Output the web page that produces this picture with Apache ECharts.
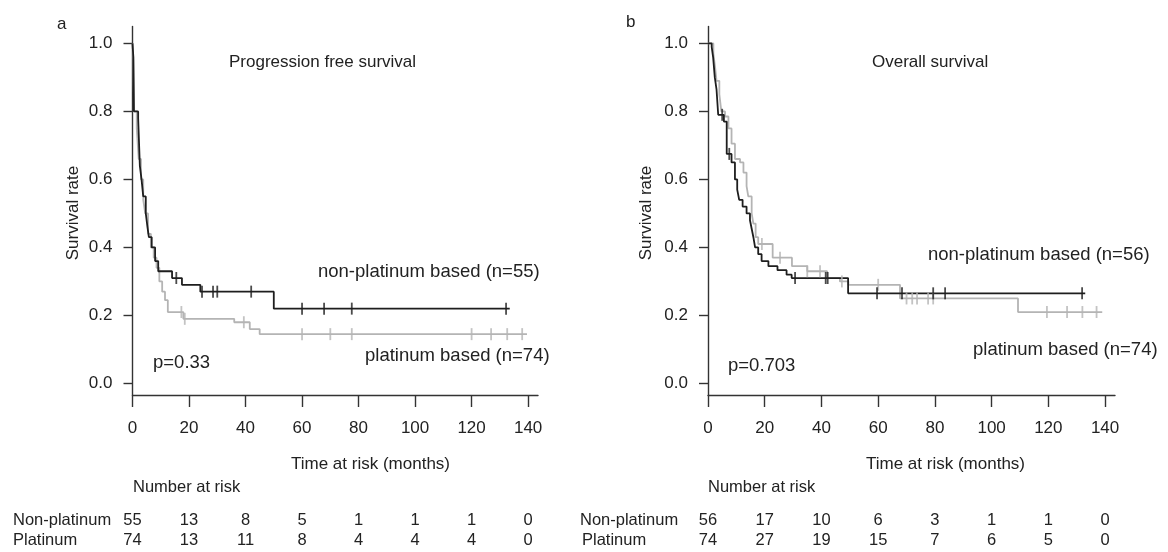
<!DOCTYPE html>
<html>
<head>
<meta charset="utf-8">
<script src="https://cdn.jsdelivr.net/npm/echarts@6/dist/echarts.min.js"></script>
<style>
html,body{margin:0;padding:0;background:#fff;}
#chart{width:1168px;height:552px;}
</style>
</head>
<body>
<div id="chart"></div>
<script>
// ---------- DATA ----------
const xTicks = [0, 20, 40, 60, 80, 100, 120, 140];
const yTicks = [0, 0.2, 0.4, 0.6, 0.8, 1.0];

// Panel a: progression free survival
const pfsNonTimes = [0, 0.3, 0.5, 2.0, 2.6, 3.2, 3.8, 4.7, 5.3, 5.8, 6.8, 8.0, 9.1, 14, 17.5, 24, 50, 133.5];
const pfsNonSurv  = [1.0, 0.96, 0.80, 0.78, 0.64, 0.60, 0.55, 0.50, 0.46, 0.43, 0.40, 0.36, 0.33, 0.31, 0.29, 0.27, 0.22, 0.22];
const pfsNonCensor = [15.5, 24.6, 28.5, 30, 42, 60, 67.8, 77.6, 132.2];

const pfsPlatTimes = [0, 0.3, 0.6, 1.5, 2.2, 3.0, 3.8, 4.5, 5.5, 6.5, 7.5, 8.5, 9.5, 10.5, 11.5, 12.5, 18, 36, 41.5, 45, 139.6];
const pfsPlatSurv  = [1.0, 0.95, 0.80, 0.75, 0.66, 0.60, 0.54, 0.50, 0.44, 0.40, 0.37, 0.34, 0.30, 0.27, 0.245, 0.21, 0.19, 0.18, 0.16, 0.145, 0.145];
const pfsPlatCensor = [17.3, 18.5, 39.4, 60, 70, 77.6, 120, 126.9, 132.6, 137.9];

// Panel b: overall survival
const osNonTimes = [0, 1.3, 1.8, 2.4, 3.0, 3.6, 5.6, 6.6, 8.3, 9.5, 10.3, 11.0, 12.2, 13.6, 14.8, 15.4, 16.0, 16.6, 17.7, 18.9, 21.3, 24.5, 27.7, 29.5, 49.4, 133];
const osNonSurv  = [1.0, 0.99, 0.96, 0.90, 0.865, 0.79, 0.77, 0.675, 0.65, 0.60, 0.57, 0.54, 0.52, 0.50, 0.48, 0.455, 0.43, 0.40, 0.38, 0.36, 0.345, 0.333, 0.32, 0.31, 0.265, 0.265];
const osNonCensor = [5.0, 7.5, 30.7, 41.5, 42.2, 59.6, 68.4, 79.4, 83.6, 131.9];

const osPlatTimes = [0, 1.9, 2.5, 3.0, 4.0, 4.7, 6.0, 7.2, 8.3, 9.5, 11.3, 12.5, 13.6, 14.2, 15.4, 16.0, 16.8, 17.7, 22.8, 29.6, 35, 42, 46.5, 49.5, 67.7, 109.3, 139];
const osPlatSurv  = [1.0, 0.97, 0.93, 0.89, 0.85, 0.80, 0.785, 0.75, 0.705, 0.66, 0.65, 0.62, 0.58, 0.55, 0.50, 0.47, 0.43, 0.41, 0.37, 0.345, 0.33, 0.31, 0.30, 0.29, 0.25, 0.21, 0.21];
const osPlatCensor = [19, 25.4, 35, 39.5, 47.2, 60, 70, 72, 73.7, 77.6, 79.4, 119.5, 126.6, 132, 137];

// Number at risk
const riskTimes = [0, 20, 40, 60, 80, 100, 120, 140];
const pfsRiskNon  = [55, 13, 8, 5, 1, 1, 1, 0];
const pfsRiskPlat = [74, 13, 11, 8, 4, 4, 4, 0];
const osRiskNon   = [56, 17, 10, 6, 3, 1, 1, 0];
const osRiskPlat  = [74, 27, 19, 15, 7, 6, 5, 0];

// ---------- HELPERS ----------
const FONT = '"Liberation Sans", Arial, Helvetica, sans-serif';
const BLACK = '#1e1e1e';
const GRAY = '#b4b4b4';

function zip(t, s) { return t.map((v, i) => [v, s[i]]); }
function survAt(times, surv, t) {
  let v = surv[0];
  for (let i = 0; i < times.length; i++) { if (times[i] <= t) v = surv[i]; }
  return v;
}
function censorPts(c, times, surv) { return c.map(t => [t, survAt(times, surv, t)]); }

function xAxisCfg(idx) {
  return {
    type: 'value', gridIndex: idx, min: 0, max: 143.5,
    axisLine: { show: true, onZero: false, lineStyle: { color: '#333', width: 1.4 } },
    axisTick: { show: true, length: 12, customValues: xTicks, lineStyle: { color: '#333', width: 1.4 } },
    axisLabel: { customValues: xTicks, margin: 25, fontSize: 17, fontFamily: FONT, color: '#222' },
    splitLine: { show: false }
  };
}
function yAxisCfg(idx) {
  return {
    type: 'value', gridIndex: idx, min: -0.034, max: 1.05,
    axisLine: { show: true, onZero: false, lineStyle: { color: '#333', width: 1.4 } },
    axisTick: { show: true, length: 9, customValues: yTicks, lineStyle: { color: '#333', width: 1.4 } },
    axisLabel: { customValues: yTicks, margin: 20, fontSize: 17, fontFamily: FONT, color: '#222',
      formatter: v => v.toFixed(1) },
    splitLine: { show: false }
  };
}
function kmLine(idx, times, surv, color) {
  return {
    type: 'line', xAxisIndex: idx, yAxisIndex: idx, step: 'end',
    data: zip(times, surv), showSymbol: false, symbol: 'none',
    lineStyle: { color: color, width: 1.8 }, silent: true, z: color === BLACK ? 4 : 3
  };
}
function kmCensor(idx, c, times, surv, color) {
  return {
    type: 'scatter', xAxisIndex: idx, yAxisIndex: idx,
    data: censorPts(c, times, surv), symbol: 'rect', symbolSize: [1.8, 12],
    itemStyle: { color: color }, silent: true, z: color === BLACK ? 6 : 5
  };
}

const chart = echarts.init(document.getElementById('chart'), null, { renderer: 'canvas' });
chart.setOption({
  animation: false,
  backgroundColor: '#fff',
  grid: [
    { left: 132.5, top: 26.4, width: 405.5, height: 368.6 },
    { left: 708, top: 26.4, width: 407, height: 368.6 }
  ],
  xAxis: [xAxisCfg(0), xAxisCfg(1)],
  yAxis: [yAxisCfg(0), yAxisCfg(1)],
  series: [
    kmLine(0, pfsPlatTimes, pfsPlatSurv, GRAY),
    kmLine(0, pfsNonTimes, pfsNonSurv, BLACK),
    kmCensor(0, pfsPlatCensor, pfsPlatTimes, pfsPlatSurv, GRAY),
    kmCensor(0, pfsNonCensor, pfsNonTimes, pfsNonSurv, BLACK),
    kmLine(1, osPlatTimes, osPlatSurv, GRAY),
    kmLine(1, osNonTimes, osNonSurv, BLACK),
    kmCensor(1, osPlatCensor, osPlatTimes, osPlatSurv, GRAY),
    kmCensor(1, osNonCensor, osNonTimes, osNonSurv, BLACK)
  ]
});

// ---------- TEXT ----------
function txt(x, y, s, size, align, extra) {
  return Object.assign({
    type: 'text', x: x, y: y, silent: true,
    style: { text: s, fontSize: size, fontFamily: FONT, fill: '#222', align: align || 'left', verticalAlign: 'middle' }
  }, extra || {});
}
const g = [];
// panel letters & titles
g.push(txt(57, 24, 'a', 17));
g.push(txt(626, 22, 'b', 17));
g.push(txt(229, 62, 'Progression free survival', 17));
g.push(txt(872, 62, 'Overall survival', 17));
// y axis names
g.push(txt(73, 213, 'Survival rate', 17, 'center', { rotation: Math.PI / 2 }));
g.push(txt(646, 213, 'Survival rate', 17, 'center', { rotation: Math.PI / 2 }));
// curve labels
g.push(txt(318, 272, 'non-platinum based (n=55)', 18.5));
g.push(txt(365, 356, 'platinum based (n=74)', 18.5));
g.push(txt(928, 255, 'non-platinum based (n=56)', 18.5));
g.push(txt(973, 350, 'platinum based (n=74)', 18.5));
// p values
g.push(txt(153, 363, 'p=0.33', 18.5));
g.push(txt(728, 366, 'p=0.703', 18.5));
// x axis names
g.push(txt(291, 464, 'Time at risk (months)', 17));
g.push(txt(866, 464, 'Time at risk (months)', 17));
// number at risk
g.push(txt(133, 487, 'Number at risk', 16.5));
g.push(txt(708, 487, 'Number at risk', 16.5));
g.push(txt(13, 520, 'Non-platinum', 16.5));
g.push(txt(13, 540, 'Platinum', 16.5));
g.push(txt(580, 520, 'Non-platinum', 16.5));
g.push(txt(582, 540, 'Platinum', 16.5));
function riskRow(axisIdx, vals, y) {
  riskTimes.forEach((t, i) => {
    const px = chart.convertToPixel({ xAxisIndex: axisIdx }, t);
    g.push(txt(px, y, String(vals[i]), 16.5, 'center'));
  });
}
riskRow(0, pfsRiskNon, 520);
riskRow(0, pfsRiskPlat, 540);
riskRow(1, osRiskNon, 520);
riskRow(1, osRiskPlat, 540);

chart.setOption({ graphic: g });
</script>
</body>
</html>
